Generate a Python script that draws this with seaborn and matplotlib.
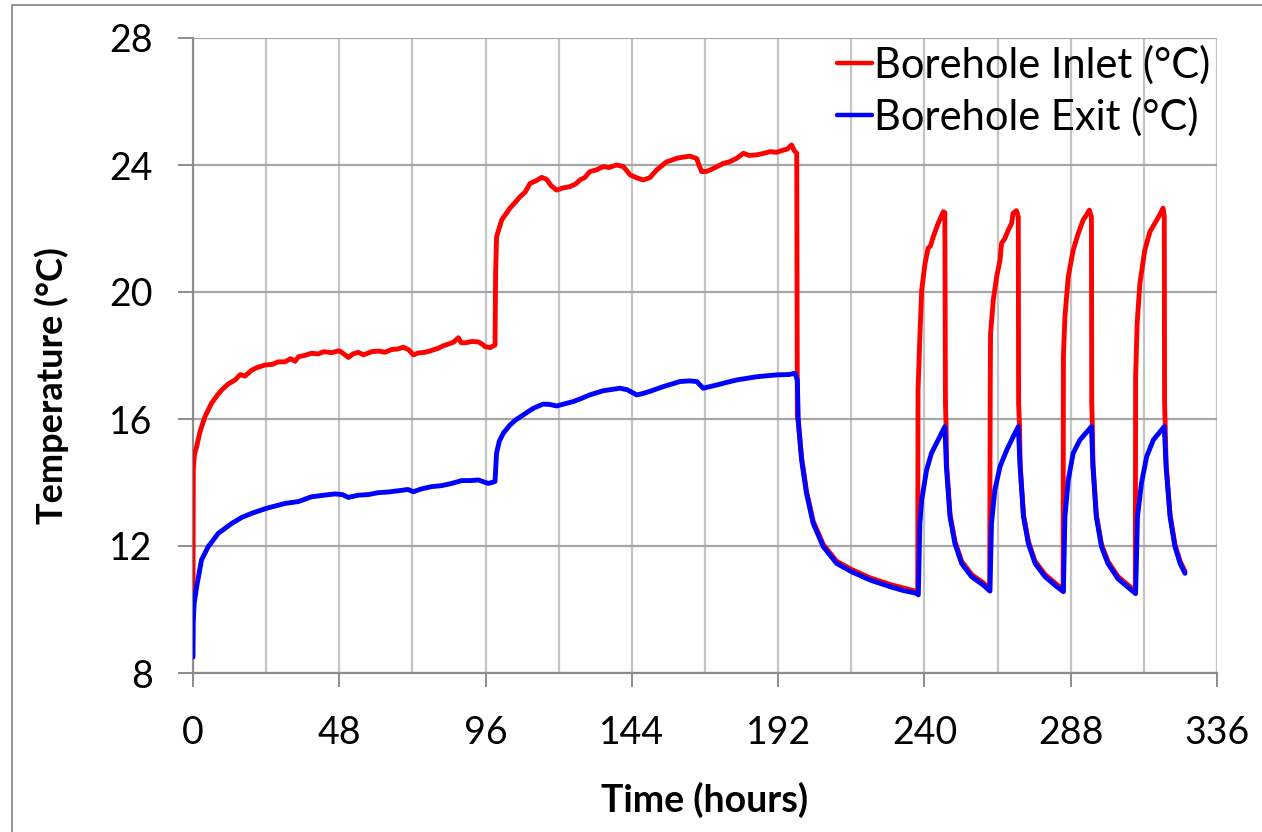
import matplotlib
matplotlib.use("Agg")
import matplotlib.pyplot as plt
from matplotlib.lines import Line2D
from matplotlib.ticker import MultipleLocator
import pandas as pd
import seaborn as sns

# Borehole inlet temperature (°C) against elapsed time (hours)
inlet_hours = [
    0.0, 0.05, 0.1, 0.5, 1.2, 2.3, 3.9, 6.1, 8.0, 9.4, 11.5, 13.8, 15.5, 17.0, 19.3,
    21.0, 23.6, 26.0, 28.0, 30.2, 32.0, 33.5, 34.6, 36.5, 38.9, 41.0, 43.0, 45.5,
    48.0, 49.5, 51.0, 52.5, 54.2, 56.0, 58.6, 61.0, 63.0, 65.2, 67.0, 69.0, 70.8,
    72.3, 74.0, 76.1, 78.0, 80.5, 82.0, 83.8, 85.5, 87.1, 88.0, 89.3, 91.5, 93.6,
    95.0, 95.8, 97.5, 99.1, 99.3, 99.6, 101.3, 104.0, 105.5, 107.3, 109.0, 110.6,
    112.5, 114.4, 116.0, 117.5, 119.3, 121.5, 123.7, 125.5, 127.0, 128.5, 130.2,
    132.5, 134.6, 136.5, 139.0, 141.2, 142.5, 143.4, 145.5, 147.7, 149.9, 152.1,
    153.5, 155.4, 157.0, 158.7, 161.0, 163.1, 165.3, 166.0, 166.9, 168.5, 169.6,
    172.0, 174.0, 176.0, 178.4, 180.6, 182.5, 184.9, 187.0, 189.3, 191.5, 193.7,
    195.0, 196.4, 197.3, 198.1, 198.3, 198.6, 199.7, 201.3, 203.5, 206.8, 211.2,
    216.1, 222.1, 228.7, 233.0, 237.4, 237.8, 237.9, 238.5, 239.1, 240.2, 241.2,
    242.0, 242.9, 244.5, 246.2, 246.7, 246.9, 247.1, 247.3, 248.4, 250.0, 252.2,
    255.5, 259.3, 261.4, 261.6, 261.7, 262.6, 263.7, 264.8, 265.3, 266.4, 267.5,
    268.6, 269.1, 270.2, 270.8, 270.9, 271.2, 271.4, 272.5, 274.1, 276.3, 279.6,
    283.4, 285.5, 285.6, 286.1, 287.2, 288.8, 290.5, 292.1, 293.2, 294.1, 294.8,
    294.9, 295.1, 295.3, 296.4, 298.1, 300.2, 303.5, 307.3, 309.2, 309.3, 309.8,
    310.7, 312.3, 314.0, 315.6, 317.2, 318.3, 318.7, 318.8, 319.0, 319.3, 320.6,
    322.2, 323.9, 325.5,
]
inlet_temp = [
    9.67, 12.5, 14.4, 14.9, 15.13, 15.6, 16.07, 16.5, 16.75, 16.91, 17.1, 17.23, 17.4,
    17.35, 17.54, 17.62, 17.70, 17.72, 17.8, 17.8, 17.9, 17.82, 17.96, 18.0, 18.07,
    18.05, 18.12, 18.09, 18.15, 18.05, 17.94, 18.05, 18.1, 18.02, 18.12, 18.14,
    18.1, 18.19, 18.2, 18.26, 18.18, 18.02, 18.08, 18.1, 18.15, 18.23, 18.3, 18.36,
    18.42, 18.56, 18.4, 18.4, 18.44, 18.43, 18.35, 18.28, 18.25, 18.33, 20.6, 21.74,
    22.27, 22.64, 22.8, 23.0, 23.15, 23.42, 23.5, 23.61, 23.55, 23.35, 23.21, 23.28,
    23.32, 23.4, 23.53, 23.6, 23.79, 23.85, 23.95, 23.92, 24.0, 23.95, 23.8, 23.69,
    23.6, 23.53, 23.6, 23.84, 23.95, 24.1, 24.15, 24.21, 24.25, 24.28, 24.2, 24.0,
    23.79, 23.8, 23.84, 23.95, 24.05, 24.1, 24.21, 24.37, 24.3, 24.32, 24.36, 24.42,
    24.4, 24.47, 24.5, 24.63, 24.45, 24.37, 16.07, 15.9, 14.78, 13.73, 12.78, 12.05,
    11.52, 11.26, 11.0, 10.79, 10.68, 10.57, 10.6, 16.91, 18.59, 20.06, 20.9, 21.38,
    21.45, 21.74, 22.16, 22.53, 22.5, 16.5, 15.78, 14.55, 12.99, 12.15, 11.52, 11.1,
    10.84, 10.65, 17.12, 18.7, 19.75, 20.48, 21.0, 21.53, 21.69, 21.95, 22.16, 22.48,
    22.56, 22.37, 16.5, 15.8, 14.57, 12.99, 12.15, 11.52, 11.1, 10.79, 10.63, 17.96,
    19.22, 20.48, 21.32, 21.85, 22.27, 22.43, 22.58, 22.37, 16.5, 15.8, 14.57, 12.99,
    12.05, 11.52, 11.04, 10.73, 10.57, 17.33, 19.01, 20.27, 21.32, 21.9, 22.16,
    22.43, 22.64, 22.37, 16.5, 15.8, 14.57, 12.99, 12.05, 11.52, 11.2,
]

# Borehole exit temperature (°C) against elapsed time (hours)
exit_hours = [
    0.0, 0.1, 0.4, 1.2, 2.8, 5.0, 8.3, 12.7, 16.0, 19.3, 24.2, 30.2, 34.6, 38.9, 43.0,
    46.6, 49.0, 51.0, 54.2, 57.5, 60.8, 64.0, 67.4, 70.5, 72.3, 75.0, 78.3, 81.5,
    84.9, 88.1, 91.0, 93.6, 96.9, 99.1, 99.6, 100.5, 101.8, 104.0, 106.0, 108.4,
    111.7, 114.9, 117.0, 119.3, 122.0, 124.8, 127.5, 130.2, 134.6, 140.1, 142.5,
    145.6, 147.5, 149.9, 154.3, 159.8, 163.0, 165.3, 167.4, 171.8, 175.0, 178.4,
    184.9, 191.5, 195.5, 197.5, 198.3, 198.6, 199.7, 201.3, 203.5, 206.8, 211.2,
    216.1, 222.1, 228.7, 233.0, 237.4, 238.0, 238.5, 239.1, 240.7, 242.3, 244.5,
    246.7, 247.2, 248.4, 250.0, 252.2, 255.5, 259.3, 261.5, 262.0, 263.1, 264.8,
    267.0, 269.1, 270.8, 271.4, 272.5, 274.1, 276.3, 279.6, 283.4, 285.6, 286.1,
    287.2, 288.8, 291.0, 294.8, 295.3, 296.4, 298.1, 300.2, 303.5, 307.3, 309.3,
    309.9, 311.2, 312.9, 315.1, 318.7, 319.3, 320.6, 322.2, 323.9, 325.5,
]
exit_temp = [
    8.5, 9.67, 10.2, 10.72, 11.56, 11.98, 12.4, 12.71, 12.9, 13.03, 13.19, 13.34, 13.4,
    13.55, 13.6, 13.64, 13.62, 13.53, 13.6, 13.62, 13.68, 13.7, 13.74, 13.78, 13.71,
    13.8, 13.87, 13.9, 13.97, 14.06, 14.06, 14.08, 13.97, 14.03, 14.92, 15.3, 15.55,
    15.81, 15.98, 16.13, 16.34, 16.47, 16.46, 16.41, 16.48, 16.55, 16.65, 16.76,
    16.89, 16.97, 16.92, 16.76, 16.8, 16.87, 17.02, 17.18, 17.2, 17.18, 16.97, 17.07,
    17.15, 17.23, 17.33, 17.39, 17.4, 17.44, 17.23, 15.97, 14.71, 13.66, 12.71,
    11.98, 11.45, 11.19, 10.93, 10.72, 10.6, 10.51, 10.46, 12.71, 13.45, 14.39,
    14.92, 15.34, 15.76, 14.5, 12.92, 12.08, 11.45, 11.03, 10.77, 10.58, 12.71,
    13.76, 14.5, 15.02, 15.44, 15.76, 14.5, 12.92, 12.08, 11.45, 11.03, 10.72, 10.56,
    12.92, 14.08, 14.92, 15.34, 15.76, 14.5, 12.92, 11.98, 11.45, 10.97, 10.66, 10.5,
    12.92, 13.97, 14.81, 15.34, 15.76, 14.5, 12.92, 11.98, 11.45, 11.14,
]

x_ticks = [0, 48, 96, 144, 192, 240, 288, 336]
y_ticks = [8, 12, 16, 20, 24, 28]
inlet_label = "Borehole Inlet (°C)"
exit_label = "Borehole Exit (°C)"

sns.set_style("white")
plt.rcParams["font.family"] = ["Lato", "DejaVu Sans"]
plt.rcParams["text.color"] = "black"
plt.rcParams["axes.labelcolor"] = "black"

inlet_df = pd.DataFrame({"hours": inlet_hours, "temp": inlet_temp})
exit_df = pd.DataFrame({"hours": exit_hours, "temp": exit_temp})

fig = plt.figure(figsize=(12.62, 8.32), dpi=100)
ax = fig.add_axes([193 / 1262, 1 - 673 / 832, (1217 - 193) / 1262, (673 - 38) / 832])

line_w = 3.5
sns.lineplot(data=inlet_df, x="hours", y="temp", ax=ax, color="#ff0000",
             linewidth=line_w, sort=False, estimator=None, label=inlet_label, zorder=3)
sns.lineplot(data=exit_df, x="hours", y="temp", ax=ax, color="#0000ff",
             linewidth=line_w, sort=False, estimator=None, label=exit_label, zorder=4)

ax.set_xlim(0, 336)
ax.set_ylim(8, 28)
ax.set_xticks(x_ticks)
ax.set_yticks(y_ticks)
ax.xaxis.set_minor_locator(MultipleLocator(24))

grid_h = "#a6a6a6"
grid_v = "#c4c4c4"
ax.grid(False)
ax.yaxis.grid(True, which="major", color=grid_h, linewidth=1.6, zorder=0)
ax.xaxis.grid(True, which="both", color=grid_v, linewidth=1.6, zorder=0)
ax.set_axisbelow(True)

for side in ("top", "right"):
    ax.spines[side].set_visible(False)
for side in ("left", "bottom"):
    ax.spines[side].set_color("#8c8c8c")
    ax.spines[side].set_linewidth(1.6)

ax.tick_params(axis="x", which="major", direction="out", length=10, width=1.4,
               color="#8c8c8c", pad=20, labelsize=27, labelcolor="black", bottom=True)
ax.tick_params(axis="x", which="minor", length=0)
ax.tick_params(axis="y", which="major", direction="out", length=11, width=1.4,
               color="#8c8c8c", pad=18, labelsize=27, labelcolor="black", left=True)

ax.set_xlabel("Time (hours)", fontsize=27, fontweight="bold", color="black")
ax.set_ylabel("Temperature (°C)", fontsize=26, fontweight="bold", color="black")
ax.xaxis.set_label_coords(0.5, -(800 - 673) / 635, transform=ax.transAxes)
ax.yaxis.set_label_coords(-(193 - 52) / 1024, (673 - 386) / 635, transform=ax.transAxes)
ax.xaxis.label.set_va("center")
ax.yaxis.label.set_va("center")

leg = ax.legend(loc="upper right", frameon=False, fontsize=30, handlelength=0.85,
                handletextpad=0.05, labelspacing=0.3, borderaxespad=0.0,
                bbox_to_anchor=(1.01, 1.015))
for h in leg.get_lines():
    h.set_linewidth(3.2)

# thin outer frame along the top and left edges
frame_color = "#8c8c8c"
fig.add_artist(Line2D([12 / 1262, 1.0], [1 - 5 / 832, 1 - 5 / 832],
                      transform=fig.transFigure, color=frame_color, linewidth=1.3))
fig.add_artist(Line2D([12 / 1262, 12 / 1262], [0.0, 1 - 5 / 832],
                      transform=fig.transFigure, color=frame_color, linewidth=1.3))

fig.savefig("out.png", dpi=100, facecolor="white")
